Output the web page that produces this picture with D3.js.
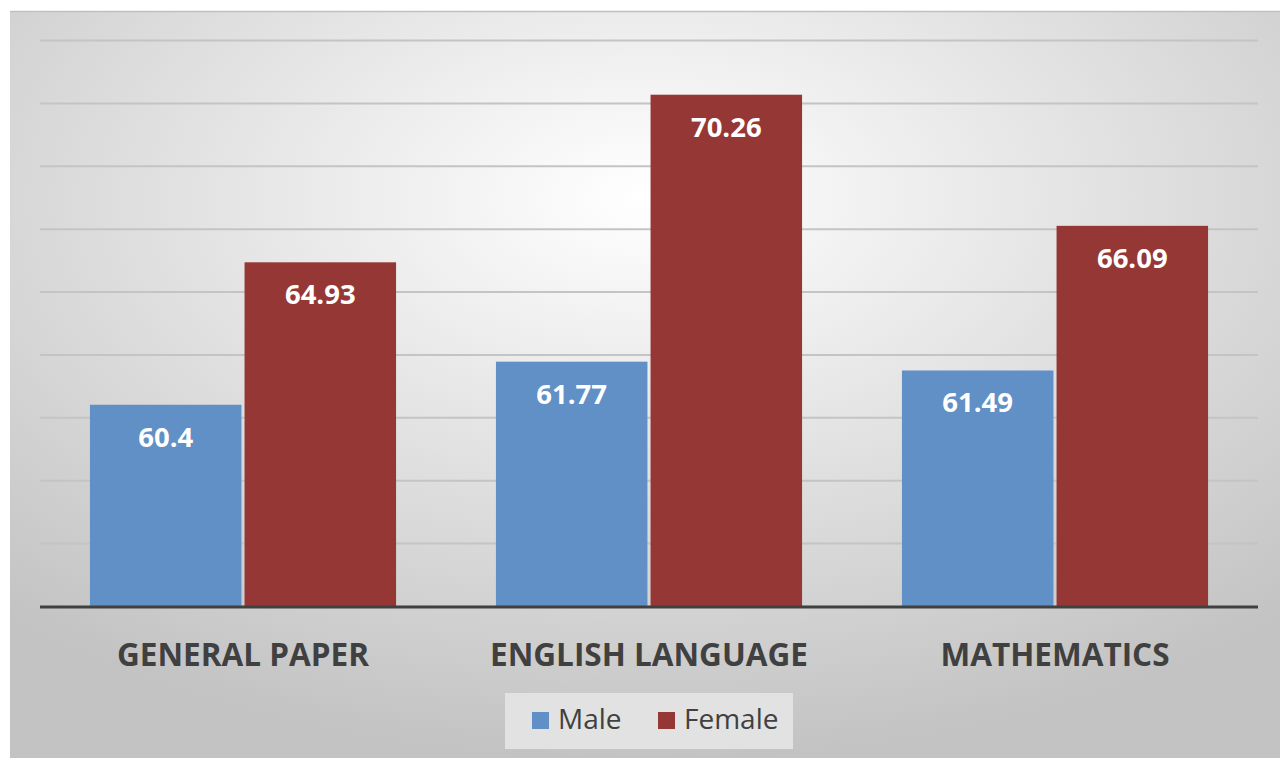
<!DOCTYPE html>
<html>
<head>
<meta charset="utf-8">
<script src="https://cdn.jsdelivr.net/npm/d3@7"></script>
<style>
  body { margin: 0; background: #fff; }
  svg { display: block; }
</style>
</head>
<body>
<script>
let subjects = ["GENERAL PAPER", "ENGLISH LANGUAGE", "MATHEMATICS"];
let series = ["Male", "Female"];
let male = [60.4, 61.77, 61.49];
let female = [64.93, 70.26, 66.09];
let ticks = [54, 56, 58, 60, 62, 64, 66, 68, 70, 72];
let colors = ["#6190c7", "#953735"];

let width = 1280;
let height = 758;
let plotLeft = 40, plotRight = 1258, plotTop = 40, plotBottom = 606;

let svg = d3.select("body")
  .append("svg")
  .attr("width", width)
  .attr("height", height);

let defs = svg.append("defs");
let grad = defs.append("radialGradient")
  .attr("id", "bg")
  .attr("cx", "50%").attr("cy", "25%").attr("r", "75%");
grad.append("stop").attr("offset", "0%").attr("stop-color", "#ffffff");
grad.append("stop").attr("offset", "100%").attr("stop-color", "#c3c3c3");

svg.append("rect")
  .attr("x", 10).attr("y", 11)
  .attr("width", width - 10).attr("height", height - 11)
  .attr("fill", "url(#bg)");
svg.append("line")
  .attr("x1", 10).attr("x2", width)
  .attr("y1", 11.5).attr("y2", 11.5)
  .attr("stroke", "#c0c0c0").attr("stroke-width", 1.5);

let yScale = d3.scaleLinear()
  .domain([54, 72])
  .range([plotBottom, plotTop]);

let x0 = d3.scaleBand()
  .domain(subjects)
  .range([plotLeft, plotRight])
  .paddingInner(0.246)
  .paddingOuter(0.123);

let x1 = d3.scaleBand()
  .domain(series)
  .range([0, x0.bandwidth()])
  .paddingInner(0.02);

// gridlines
let yAxis = d3.axisLeft(yScale)
  .tickValues(ticks)
  .tickSize(-(plotRight - plotLeft))
  .tickFormat("");
let gy = svg.append("g")
  .attr("transform", "translate(" + plotLeft + ",0)")
  .call(yAxis);
gy.select(".domain").remove();
gy.selectAll(".tick line")
  .attr("stroke", "#c4c4c4")
  .attr("stroke-width", 2);

let rows = subjects.map((s, i) => ({ subject: s, values: [male[i], female[i]] }));

let groups = svg.append("g")
  .selectAll("g")
  .data(rows)
  .join("g")
  .attr("transform", d => "translate(" + x0(d.subject) + ",0)");

groups.selectAll("rect")
  .data(d => d.values.map((v, j) => ({ key: series[j], value: v, j: j })))
  .join("rect")
  .attr("x", d => x1(d.key))
  .attr("y", d => yScale(d.value))
  .attr("width", x1.bandwidth())
  .attr("height", d => plotBottom - yScale(d.value))
  .attr("fill", d => colors[d.j]);

groups.selectAll("text")
  .data(d => d.values.map((v, j) => ({ key: series[j], value: v })))
  .join("text")
  .attr("x", d => x1(d.key) + x1.bandwidth() / 2)
  .attr("y", d => yScale(d.value) + 42)
  .attr("text-anchor", "middle")
  .attr("fill", "#ffffff")
  .attr("font-family", "'Open Sans', sans-serif")
  .attr("font-weight", "bold")
  .attr("font-size", 27.5)
  .text(d => d.value);

// baseline
svg.append("line")
  .attr("x1", plotLeft).attr("x2", plotRight)
  .attr("y1", plotBottom + 1).attr("y2", plotBottom + 1)
  .attr("stroke", "#404040").attr("stroke-width", 3);

// category labels
let xAxis = d3.axisBottom(x0).tickSize(0).tickPadding(0);
let gx = svg.append("g")
  .attr("transform", "translate(0," + plotBottom + ")")
  .call(xAxis);
gx.select(".domain").remove();
gx.selectAll("text")
  .attr("dy", 0)
  .attr("y", 60)
  .attr("fill", "#404040")
  .attr("font-family", "'Open Sans', sans-serif")
  .attr("font-weight", "bold")
  .attr("font-size", 31.5);

// legend
let legend = svg.append("g");
legend.append("rect")
  .attr("x", 505).attr("y", 693)
  .attr("width", 288).attr("height", 56)
  .attr("fill", "#e2e2e2");
let lx = [532, 658];
let items = legend.selectAll("g")
  .data(series)
  .join("g")
  .attr("transform", (d, i) => "translate(" + lx[i] + ",712)");
items.append("rect")
  .attr("width", 17).attr("height", 17)
  .attr("fill", (d, i) => colors[i]);
items.append("text")
  .attr("x", 26).attr("y", 17)
  .attr("fill", "#404040")
  .attr("font-family", "'Open Sans', sans-serif")
  .attr("font-size", 28)
  .text(d => d);
</script>
</body>
</html>
